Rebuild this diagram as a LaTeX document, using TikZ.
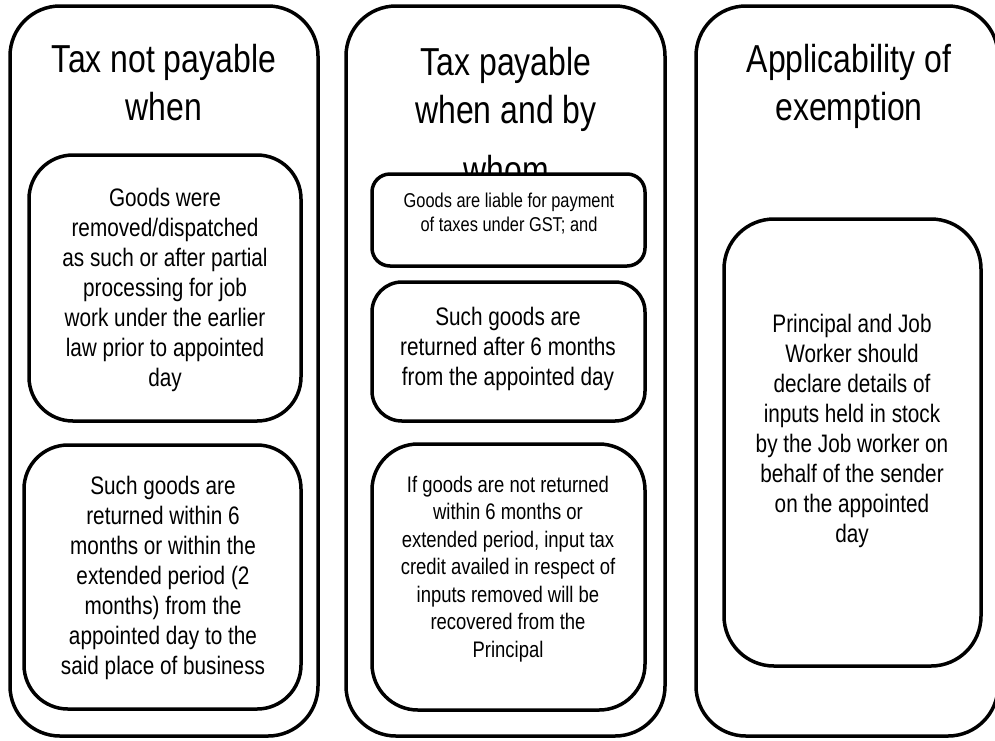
\documentclass[tikz,border=0pt]{standalone}
\usepackage{fontspec}
\setmainfont{Liberation Sans}[FakeStretch=0.82]

\begin{document}
\begin{tikzpicture}[x=1pt,y=1pt,yscale=-1,xscale=1,
  column/.style={line width=3.5pt,rounded corners=50pt},
  card/.style={line width=3.5pt,fill=white},
  heading/.style={anchor=north,inner sep=0pt,align=center,font=\fontsize{39}{48}\selectfont},
  body/.style={inner sep=0pt,align=center,font=\fontsize{25.3}{30}\selectfont}]
%set diagram to the size of the page
\useasboundingbox (0,0) rectangle (995,740);
\clip (0,0) rectangle (995,740);

%Shape: Rounded Rectangle
\draw [column] (10,6) rectangle (318,736);
%Shape: Rounded Rectangle
\draw [column] (346,6) rectangle (665,736);
%Shape: Rounded Rectangle
\draw [column] (696,6) rectangle (998,736);

% Text Node
\draw (164,44) node [heading] (notpayable) {Tax not payable\\when};
% Text Node
\draw (506,47) node [heading] (payable) {Tax payable\\when and by\\[12pt]whom};
% Text Node
\draw (849,44) node [heading] (exemption) {Applicability of\\exemption};

%Shape: Rounded Rectangle
\draw [card,rounded corners=44pt] (29,155) rectangle (301,421);
%Shape: Rounded Rectangle
\draw [card,rounded corners=44pt] (24,445) rectangle (301,709);
%Shape: Rounded Rectangle
\draw [card,rounded corners=18pt] (372,174) rectangle (645,266);
%Shape: Rounded Rectangle
\draw [card,rounded corners=30pt] (372,282) rectangle (645,421);
%Shape: Rounded Rectangle
\draw [card,rounded corners=46pt] (372,444) rectangle (645,710);
%Shape: Rounded Rectangle
\draw [card,rounded corners=50pt] (724,219) rectangle (981,666);

% Text Node
\draw (165,290) node [body] (removed) {Goods were\\removed/dispatched\\as such or after partial\\processing for job\\work under the earlier\\law prior to appointed\\day};
% Text Node
\draw (163,578) node [body] (within) {Such goods are\\returned within 6\\months or within the\\extended period (2\\months) from the\\appointed day to the\\said place of business};
% Text Node
\draw (509,214) node [body,font=\fontsize{20}{24}\selectfont] (liable) {Goods are liable for payment\\of taxes under GST; and};
% Text Node
\draw (508,349) node [body] (after) {Such goods are\\returned after 6 months\\from the appointed day};
% Text Node
\draw (508,569) node [body,font=\fontsize{22.5}{27.5}\selectfont] (recovered) {If goods are not returned\\within 6 months or\\extended period, input tax\\credit availed in respect of\\inputs removed will be\\recovered from the\\Principal};
% Text Node
\draw (852,431) node [body] (declare) {Principal and Job\\Worker should\\declare details of\\inputs held in stock\\by the Job worker on\\behalf of the sender\\on the appointed\\day};

\end{tikzpicture}
\end{document}
